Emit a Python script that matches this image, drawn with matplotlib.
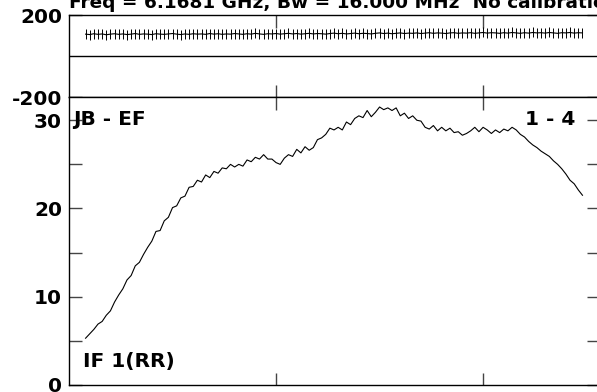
import matplotlib
matplotlib.use("Agg")
import matplotlib.pyplot as plt

plt.rcParams['font.family'] = ['DejaVu Sans']
plt.rcParams['font.weight'] = 'bold'

# channel numbers of the spectrum
channels = list(range(4, 125))

# amplitude (lower panel)
amplitude = [
    5.3, 5.8, 6.3, 6.9, 7.2, 7.9, 8.4, 9.4, 10.2, 10.9,
    11.9, 12.4, 13.5, 13.9, 14.8, 15.6, 16.3, 17.4, 17.5, 18.6,
    19.0, 20.1, 20.3, 21.2, 21.4, 22.4, 22.5, 23.2, 23.0, 23.8,
    23.5, 24.2, 24.0, 24.6, 24.5, 25.0, 24.7, 25.0, 24.8, 25.5,
    25.3, 25.8, 25.6, 26.1, 25.6, 25.6, 25.2, 25.0, 25.7, 26.1,
    25.9, 26.7, 26.3, 27.0, 26.6, 26.9, 27.8, 28.0, 28.4, 29.1,
    28.9, 29.2, 28.9, 29.8, 29.5, 30.2, 30.5, 30.3, 31.1, 30.4,
    30.9, 31.5, 31.2, 31.4, 31.1, 31.4, 30.5, 30.8, 30.2, 30.5,
    30.0, 29.9, 29.2, 29.0, 29.4, 28.8, 29.2, 28.8, 29.1, 28.6,
    28.7, 28.3, 28.5, 28.8, 29.2, 28.7, 29.2, 28.9, 28.5, 28.9,
    28.6, 29.0, 28.8, 29.2, 28.9, 28.4, 28.1, 27.6, 27.2, 26.9,
    26.5, 26.2, 25.9, 25.4, 25.0, 24.5, 23.9, 23.2, 22.8, 22.1,
    21.5,
]

# phase in degrees (upper panel)
phase = [
    107, 105, 109, 106, 108, 104, 107, 109, 106, 108,
    105, 107, 110, 106, 108, 107, 105, 109, 107, 106,
    108, 110, 107, 105, 108, 106, 109, 107, 108, 106,
    110, 107, 109, 106, 108, 107, 110, 108, 106, 109,
    107, 111, 108, 106, 109, 108, 110, 107, 109, 111,
    108, 110, 107, 109, 111, 108, 110, 109, 107, 110,
    112, 109, 111, 108, 110, 112, 109, 111, 110, 108,
    111, 113, 110, 112, 109, 111, 113, 110, 112, 111,
    113, 110, 112, 114, 111, 113, 112, 110, 113, 114,
    111, 113, 112, 114, 111, 113, 115, 112, 114, 113,
    111, 114, 112, 115, 113, 111, 114, 112, 115, 113,
    114, 112, 115, 113, 111, 114, 113, 115, 112, 114,
    113,
]

title = "Freq = 6.1681 GHz, Bw = 16.000 MHz  No calibration"

fig = plt.figure(figsize=(5.97, 3.92), dpi=100)
ax_ph = fig.add_axes([0.1156, 0.7518, 0.8878, 0.2099])
ax_am = fig.add_axes([0.1156, 0.0179, 0.8878, 0.7339], sharex=ax_ph)

# phase panel
ax_ph.plot(channels, phase, color='black', lw=0.8, marker='|', ms=7, mew=0.7)
ax_ph.axhline(0, color='black', lw=1.0)
ax_ph.set_ylim(-200, 200)
ax_ph.set_yticks([-200, 200])
ax_ph.set_yticklabels(['-200', '200'])

# amplitude panel
ax_am.plot(channels, amplitude, color='black', lw=0.8)
ax_am.set_ylim(0, 32.6)
ax_am.set_yticks([0, 5, 10, 15, 20, 25, 30])
ax_am.set_yticklabels(['0', '', '10', '', '20', '', '30'])

ax_am.set_xlim(0, 128)
ax_am.set_xticks([50, 100])
for ax in (ax_ph, ax_am):
    ax.tick_params(axis='both', direction='in', length=9, width=1.0, color='#444444',
                   labelsize=14.5, pad=5, top=True, right=True, labelbottom=False)
    for s in ax.spines.values():
        s.set_linewidth(1.0)

ax_am.text(0.007, 0.955, "JB - EF", transform=ax_am.transAxes, fontsize=14.5,
           fontweight='bold', ha='left', va='top')
ax_am.text(0.9085, 0.955, "1 - 4", transform=ax_am.transAxes, fontsize=14.5,
           fontweight='bold', ha='center', va='top')
ax_am.text(0.0264, 0.0626, "IF 1(RR)", transform=ax_am.transAxes, fontsize=14.5,
           fontweight='bold', ha='left', va='baseline')

fig.text(0.1156, 1 - 8 / 392, title, fontsize=13.3, fontweight='bold',
         ha='left', va='baseline')

fig.savefig("out.png", dpi=100)
